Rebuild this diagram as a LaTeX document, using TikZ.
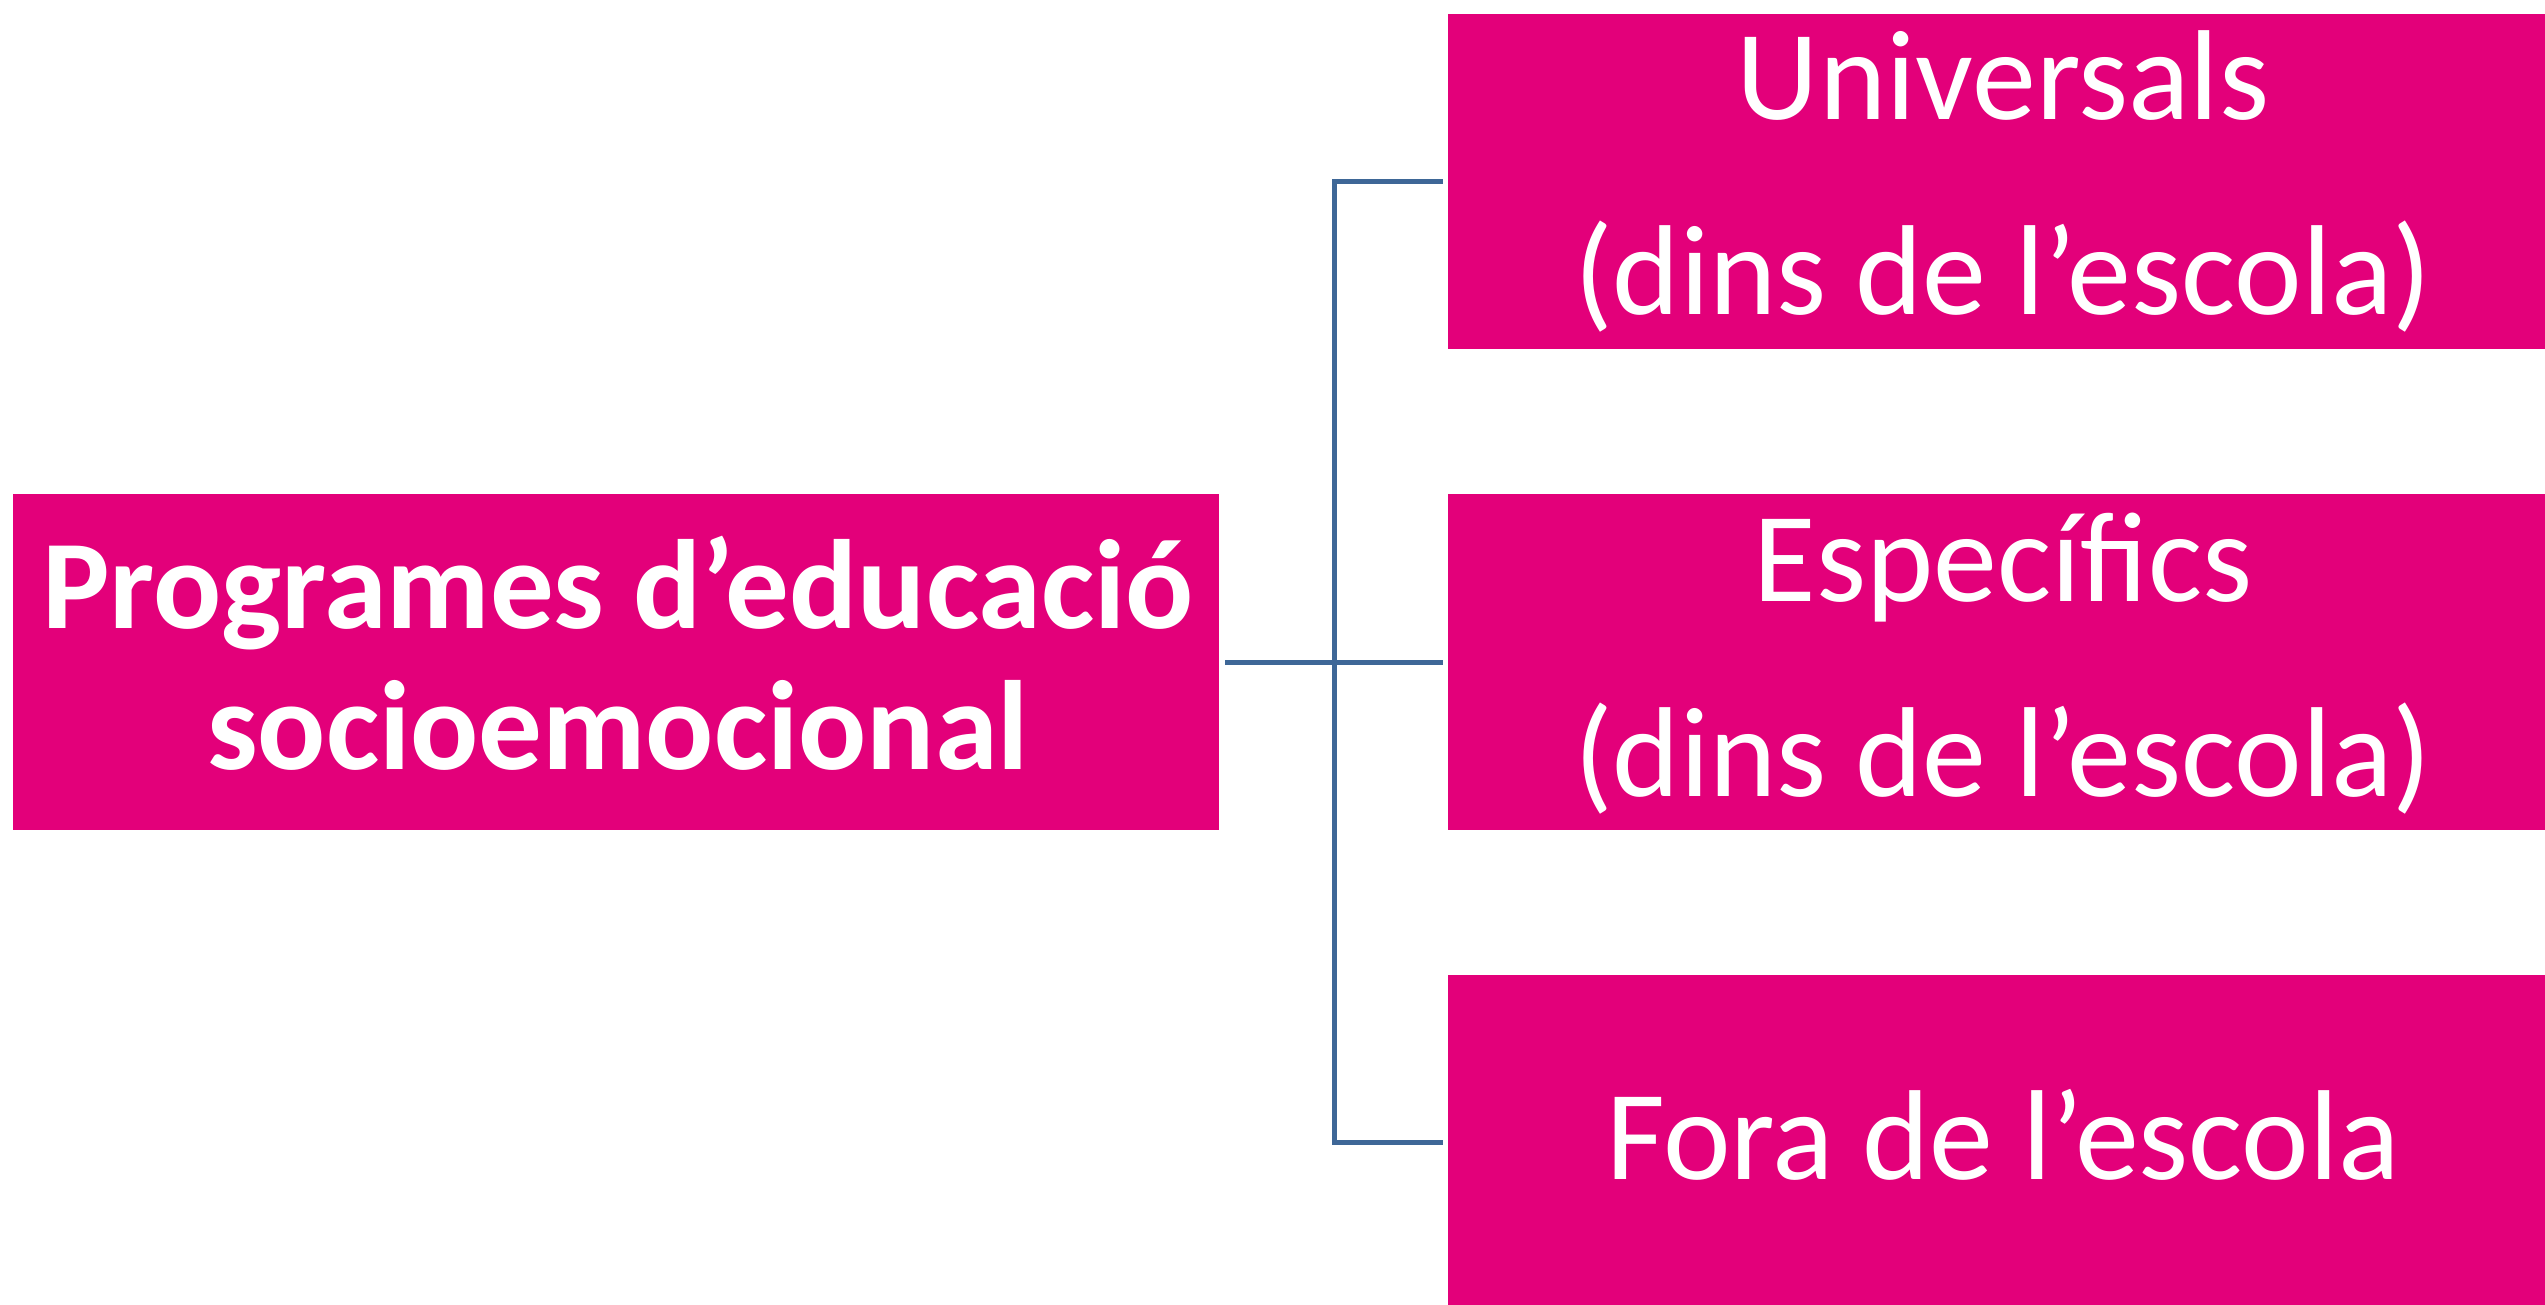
\documentclass[tikz,border=0pt]{standalone}
\usepackage{fontspec}
\setmainfont{Carlito}
\definecolor{boxmag}{RGB}{227,0,122}
\definecolor{linkblue}{RGB}{62,103,151}
\begin{document}
\begin{tikzpicture}[x=1pt,y=-1pt,
  box/.style={fill=boxmag,draw=none,rectangle,inner sep=0pt,anchor=north west},
  lbl/.style={text=white,inner sep=0pt,anchor=base,font=\fontsize{128}{150}\selectfont},
  blbl/.style={text=white,inner sep=0pt,anchor=base,font=\fontsize{127}{141}\selectfont\bfseries},
  link/.style={draw=linkblue,line width=5pt}]
\useasboundingbox[fill=white] (0,0) rectangle (2545,1305);
\clip (0,0) rectangle (2545,1305);
% boxes
\node[box,minimum width=1206pt,minimum height=336pt] (L) at (13,494) {};
\node[box,minimum width=1104pt,minimum height=335pt] (R1) at (1448,14) {};
\node[box,minimum width=1104pt,minimum height=336pt] (R2) at (1448,494) {};
\node[box,minimum width=1104pt,minimum height=334pt] (R3) at (1448,975) {};
% texts
\node[blbl] (Lt1) at (618,628) {Programes d’educació};
\node[blbl] (Lt2) at (618,769) {socioemocional};
\node[lbl] (R1t1) at (2003,120) {Universals};
\node[lbl] (R1t2) at (2003,315) {(dins de l’escola)};
\node[lbl] (R2t1) at (2003,601) {Específics};
\node[lbl] (R2t2) at (2003,796) {(dins de l’escola)};
\node[lbl] (R3t1) at (2003,1179) {Fora de l’escola};
% connectors
\coordinate (J) at (1334,662);
\draw[link,shorten <=6pt,shorten >=5pt] (L.east) -- (R2.west);
\draw[link,shorten >=5pt] (J) |- (R1.west);
\draw[link,shorten >=5pt] (J) |- (R3.west);
\end{tikzpicture}
\end{document}
